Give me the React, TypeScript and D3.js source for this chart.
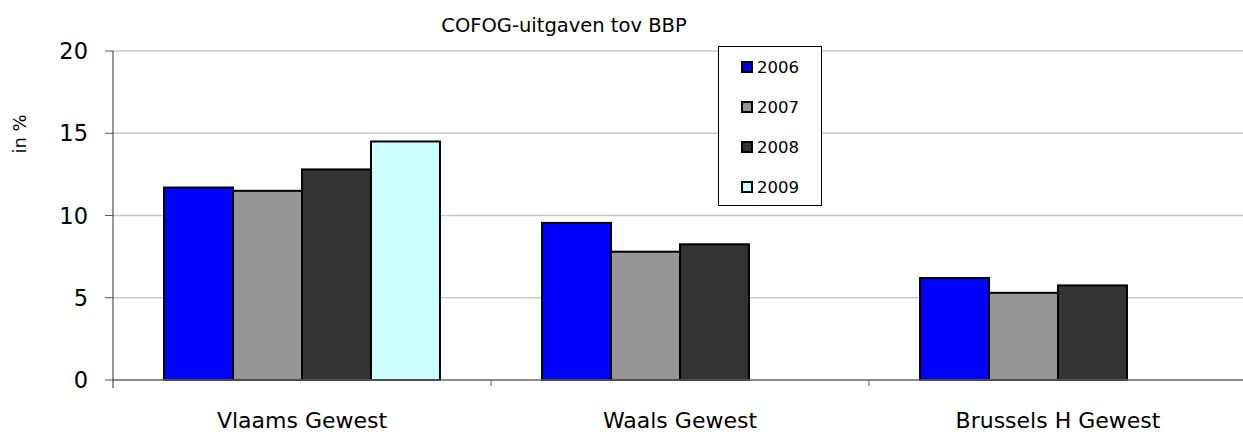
import React from "react";
import * as d3 from "d3";

const categories = ["Vlaams Gewest", "Waals Gewest", "Brussels H Gewest"];
const years = ["2006", "2007", "2008", "2009"];
const v2006 = [11.7, 9.55, 6.2];
const v2007 = [11.5, 7.8, 5.3];
const v2008 = [12.8, 8.25, 5.75];
const v2009: (number | null)[] = [14.5, null, null];
const yTicks = [0, 5, 10, 15, 20];
const colors = ["#0000FF", "#969696", "#333333", "#CCFFFF"];

const series = [v2006, v2007, v2008, v2009];
const FONT = "'DejaVu Sans', sans-serif";

export default function App() {
  const W = 1243, H = 434;
  const left = 113, right = 1247, top = 51, bottom = 380;
  const x = d3.scaleBand().domain(categories).range([left, right]).padding(0);
  const inner = d3.scaleBand().domain(years).range([0, x.bandwidth()]).paddingInner(0).paddingOuter(0.74);
  const y = d3.scaleLinear().domain([0, 20]).range([bottom, top]);

  return (
    <svg width={W} height={H} style={{ position: "absolute", left: 0, top: 0, background: "#fff", fontFamily: FONT }}>
      <rect width={W} height={H} fill="#fff" />
      {yTicks.map((t) => (
        <g key={t}>
          {t > 0 && <line x1={left} x2={W} y1={y(t)} y2={y(t)} stroke="#C8C8C8" strokeWidth={1.5} />}
          <line x1={left - 8} x2={left} y1={y(t)} y2={y(t)} stroke="#555" strokeWidth={1} />
          <text x={88} y={y(t)} dy="0.36em" textAnchor="end" fontSize={22.5} fill="#000">{t}</text>
        </g>
      ))}
      {categories.map((c, ci) =>
        series.map((s, si) => {
          const v = s[ci];
          if (v == null) return null;
          const bx = (x(c) as number) + (inner(years[si]) as number);
          return (
            <rect key={c + si} x={bx} y={y(v)} width={inner.bandwidth()} height={y(0) - y(v)}
              fill={colors[si]} stroke="#000" strokeWidth={2} />
          );
        })
      )}
      <line x1={left} x2={W} y1={bottom} y2={bottom} stroke="#666" strokeWidth={1.5} />
      <line x1={left} x2={left} y1={top} y2={bottom + 8} stroke="#333" strokeWidth={1} />
      {categories.slice(1).map((c) => (
        <line key={c} x1={x(c) as number} x2={x(c) as number} y1={bottom} y2={bottom + 6} stroke="#555" strokeWidth={1} />
      ))}
      {categories.map((c) => (
        <text key={c} x={(x(c) as number) + x.bandwidth() / 2} y={428} textAnchor="middle" fontSize={22} fill="#000">{c}</text>
      ))}
      <text x={564} y={32} textAnchor="middle" fontSize={19.5} fill="#000">COFOG-uitgaven tov BBP</text>
      <text transform="translate(26,134) rotate(-90)" textAnchor="middle" fontSize={18} fill="#000">in %</text>
      <rect x={718.5} y={46.5} width={103} height={159} fill="#fff" stroke="#000" strokeWidth={1} />
      {years.map((yr, i) => (
        <g key={yr} transform={`translate(0,${67 + i * 40})`}>
          <rect x={742} y={-5} width={10} height={10} fill={colors[i]} stroke="#000" strokeWidth={2} />
          <text x={757} y={0} dy="0.36em" fontSize={16.5} fill="#000">{yr}</text>
        </g>
      ))}
    </svg>
  );
}
